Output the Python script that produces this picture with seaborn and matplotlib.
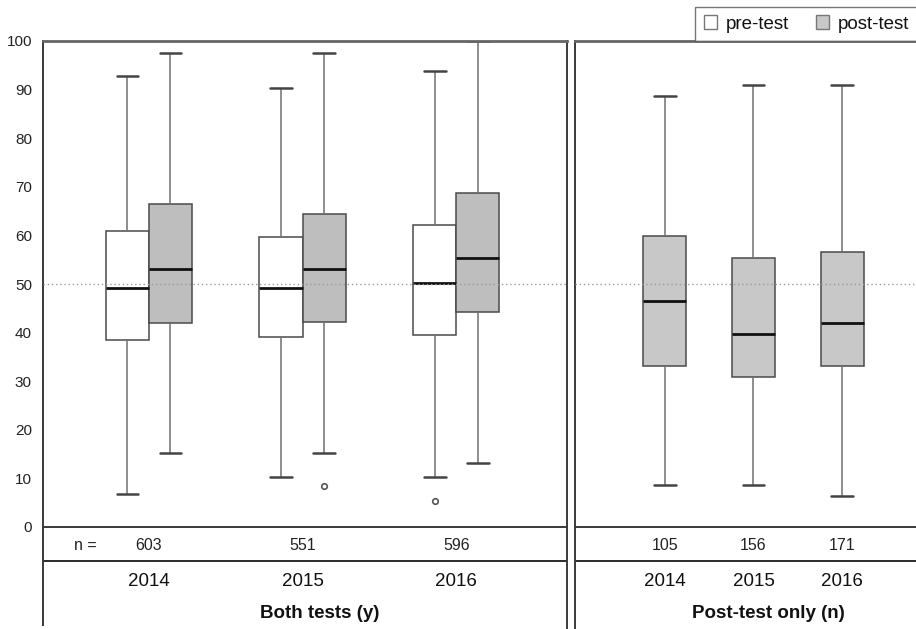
import numpy as np
import pandas as pd
import matplotlib
matplotlib.use("Agg")
import matplotlib.pyplot as plt
import seaborn as sns
from matplotlib.patches import Patch

# ---------------- data ----------------
years = ["2014", "2015", "2016"]
tests = ["pre-test", "post-test"]

# Both tests (y): whisker low, Q1, median, Q3, whisker high, outlier
pre_low = [6.7, 10.2, 10.2]
pre_q1 = [38.5, 39.1, 39.6]
pre_med = [49.1, 49.1, 50.3]
pre_q3 = [60.9, 59.6, 62.1]
pre_high = [92.7, 90.3, 93.8]
pre_out = [None, None, 5.4]

post_low = [15.3, 15.3, 13.1]
post_q1 = [42.0, 42.1, 44.2]
post_med = [53.1, 53.1, 55.3]
post_q3 = [66.5, 64.4, 68.7]
post_high = [97.6, 97.5, 100.0]
post_out = [None, 8.5, None]

# Post-test only (n)
only_low = [8.7, 8.7, 6.3]
only_q1 = [33.1, 30.8, 33.1]
only_med = [46.5, 39.8, 42.0]
only_q3 = [59.8, 55.3, 56.5]
only_high = [88.7, 91.0, 91.0]

n_both = [603, 551, 596]
n_only = [105, 156, 171]

group_labels = ["Both tests (y)", "Post-test only (n)"]
y_ticks = list(range(0, 101, 10))


def box_values(lo, q1, med, q3, hi, out=None):
    """Nine values whose linear quartiles equal q1/med/q3 and whose
    whiskers end at lo/hi (Tukey 1.5 IQR rule)."""
    if out is None:
        return [lo, q1, q1, med, med, med, q3, q3, hi]
    return sorted([out, lo, q1, med, med, med, q3, q3, hi])


rows = []
for i, yr in enumerate(years):
    for v in box_values(pre_low[i], pre_q1[i], pre_med[i], pre_q3[i], pre_high[i], pre_out[i]):
        rows.append((yr, "pre-test", v))
    for v in box_values(post_low[i], post_q1[i], post_med[i], post_q3[i], post_high[i], post_out[i]):
        rows.append((yr, "post-test", v))
df_both = pd.DataFrame(rows, columns=["year", "test", "score"])

rows = []
for i, yr in enumerate(years):
    for v in box_values(only_low[i], only_q1[i], only_med[i], only_q3[i], only_high[i]):
        rows.append((yr, v))
df_only = pd.DataFrame(rows, columns=["year", "score"])

# ---------------- style ----------------
sns.set_style("white")
plt.rcParams["font.family"] = ["Liberation Sans", "DejaVu Sans"]

W, H = 916, 629
fig = plt.figure(figsize=(W / 100, H / 100), dpi=100)


def fx(px):
    return px / W


def fy(py):
    return 1 - py / H


TOP, ZERO, BOTTOM = 41, 527, 629
L0, L1 = 43, 567
R0, R1 = 575, 917

axL = fig.add_axes([fx(L0), fy(ZERO), fx(L1 - L0), (ZERO - TOP) / H])
axR = fig.add_axes([fx(R0), fy(ZERO), fx(R1 - R0), (ZERO - TOP) / H])
lowL = fig.add_axes([fx(L0), 0, fx(L1 - L0), (BOTTOM - ZERO) / H])
lowR = fig.add_axes([fx(R0), 0, fx(R1 - R0), (BOTTOM - ZERO) / H])

EDGE = "#4a4a4a"
box_common = dict(
    whis=1.5,
    linecolor=EDGE,
    linewidth=1.1,
    medianprops=dict(color="#111111", linewidth=2.0),
    whiskerprops=dict(color="#707070", linewidth=1.1),
    capprops=dict(color="#444444", linewidth=1.8),
    flierprops=dict(marker="o", markersize=4, markerfacecolor="white",
                    markeredgecolor="#555555", markeredgewidth=1.2),
)

sns.boxplot(data=df_both, x="year", y="score", hue="test", order=years,
            hue_order=tests, palette={"pre-test": "white", "post-test": "#bebebe"},
            width=0.5615, gap=0, dodge=True, legend=False, ax=axL, **box_common)
sns.boxplot(data=df_only, x="year", y="score", order=years, color="#c8c8c8",
            width=0.485, ax=axR, **box_common)

axL.set_xlim(-0.689, 2.720)
axR.set_xlim(-1.012, 2.843)
for ax in (axL, axR):
    ax.set_ylim(0, 100)
    ax.set_xlabel("")
    ax.set_ylabel("")
    ax.tick_params(axis="x", bottom=False, labelbottom=False)
    ax.axhline(50, ls=(0, (1, 2)), color="#9a9a9a", lw=1.0, zorder=4)
    for s in ax.spines.values():
        s.set_color("#3a3a3a")
        s.set_linewidth(1.4)
    ax.spines["top"].set_color("#666666")
    ax.spines["top"].set_linewidth(2.0)

axL.set_yticks(y_ticks)
axL.tick_params(axis="y", direction="inout", length=10, width=1.4, color="#222222",
                pad=3, labelsize=11, labelcolor="#222222")
axR.tick_params(axis="y", left=False, labelleft=False)
axR.spines["right"].set_visible(False)

# ---------------- n row and category labels ----------------
for low, xl in ((lowL, axL.get_xlim()), (lowR, axR.get_xlim())):
    low.set_xlim(*xl)
    low.set_ylim(BOTTOM - ZERO, 0)
    low.set_xticks([])
    low.set_yticks([])
    low.patch.set_alpha(0)
    for s in low.spines.values():
        s.set_color("#3a3a3a")
        s.set_linewidth(1.4)
    low.spines["top"].set_visible(False)
    low.spines["bottom"].set_visible(False)
    low.axhline(561 - ZERO, color="#2a2a2a", lw=1.4)
lowR.spines["right"].set_visible(False)
lowL.spines["left"].set_bounds(0, 98)

lowL.text((85 - L0) / (L1 - L0), 545 - ZERO, "n =", transform=lowL.get_yaxis_transform() if False else
          matplotlib.transforms.blended_transform_factory(lowL.transAxes, lowL.transData),
          ha="center", va="center", fontsize=11.5, color="#222222")
for i, n in enumerate(n_both):
    lowL.text(i, 545 - ZERO, str(n), ha="center", va="center", fontsize=11.5, color="#222222")
    lowL.text(i, 581 - ZERO, years[i], ha="center", va="center", fontsize=13.5, color="#111111")
for i, n in enumerate(n_only):
    lowR.text(i, 545 - ZERO, str(n), ha="center", va="center", fontsize=11.5, color="#222222")
    lowR.text(i, 581 - ZERO, years[i], ha="center", va="center", fontsize=13.5, color="#111111")

tL = matplotlib.transforms.blended_transform_factory(lowL.transAxes, lowL.transData)
tR = matplotlib.transforms.blended_transform_factory(lowR.transAxes, lowR.transData)
lowL.text((320 - L0) / (L1 - L0), 614 - ZERO, group_labels[0], transform=tL,
          ha="center", va="center", fontsize=13.5, fontweight="bold", color="#111111")
lowR.text((768 - R0) / (R1 - R0), 614 - ZERO, group_labels[1], transform=tR,
          ha="center", va="center", fontsize=13.5, fontweight="bold", color="#111111")

# ---------------- legend ----------------
handles = [Patch(facecolor="white", edgecolor="#777777", label=tests[0]),
           Patch(facecolor="#c8c8c8", edgecolor="#777777", label=tests[1])]
leg = fig.legend(handles=handles, loc="lower right", bbox_to_anchor=(fx(918), fy(TOP)),
                 ncol=2, frameon=True, fancybox=False, fontsize=13.5,
                 handlelength=0.7, handleheight=0.7, handletextpad=0.5,
                 columnspacing=1.4, borderpad=0.45, borderaxespad=0)
leg.get_frame().set_edgecolor("#555555")
leg.get_frame().set_linewidth(1.0)
for t in leg.get_texts():
    t.set_color("#111111")

fig.savefig("out.png", dpi=100)
